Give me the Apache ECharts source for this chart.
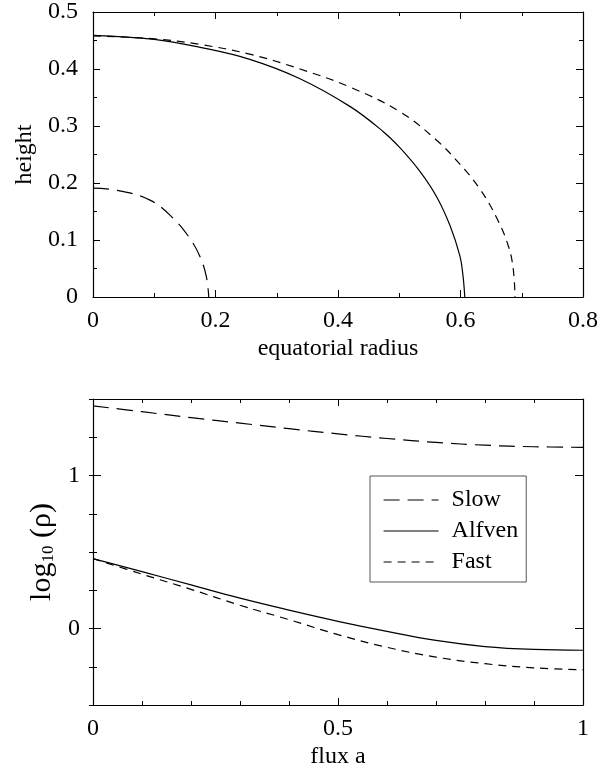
<!DOCTYPE html>
<html>
<head>
<meta charset="utf-8">
<script src="https://cdn.jsdelivr.net/npm/echarts@6/dist/echarts.min.js"></script>
<style>
  html, body { margin: 0; padding: 0; background: #fff; }
  #chart { width: 611px; height: 777px; }
</style>
</head>
<body>
<div id="chart"></div>
<script>
// top panel: surface shapes (equatorial radius vs height)
const topSlowX = [0, 0.04, 0.093, 0.131, 0.158, 0.175, 0.185, 0.189];
const topSlowY = [0.191, 0.187, 0.170, 0.138, 0.103, 0.070, 0.036, 0];
const topAlfvenX = [0, 0.1, 0.175, 0.256, 0.338, 0.42, 0.474, 0.501, 0.534, 0.561, 0.583, 0.599, 0.604, 0.607];
const topAlfvenY = [0.459, 0.452, 0.438, 0.417, 0.383, 0.334, 0.290, 0.262, 0.220, 0.176, 0.125, 0.072, 0.038, 0];
const topFastX = [0, 0.1, 0.175, 0.256, 0.338, 0.42, 0.501, 0.561, 0.599, 0.632, 0.659, 0.678, 0.686, 0.689];
const topFastY = [0.458, 0.453, 0.443, 0.426, 0.400, 0.368, 0.325, 0.275, 0.233, 0.189, 0.139, 0.090, 0.050, 0];

// bottom panel: log10(rho) vs flux a
const fluxA = [0, 0.1, 0.2, 0.3, 0.4, 0.5, 0.6, 0.7, 0.8, 0.9, 1.0];
const rhoSlow = [1.455, 1.417, 1.378, 1.342, 1.306, 1.272, 1.242, 1.216, 1.198, 1.188, 1.184];
const rhoAlfven = [0.457, 0.372, 0.285, 0.198, 0.12, 0.047, -0.019, -0.078, -0.118, -0.137, -0.142];
const rhoFast = [0.457, 0.355, 0.256, 0.152, 0.058, -0.04, -0.123, -0.187, -0.23, -0.257, -0.27];

const logTicks = [0, 1];

const FONT = '"Liberation Serif", "Times New Roman", serif';
const BLACK = '#000';

const dashes = {
  Slow: [16, 8],
  Alfven: 'solid',
  Fast: [8, 6]
};

function pairs(xs, ys) {
  return xs.map((x, i) => [x, ys[i]]);
}

function lineSeries(name, data, xi, yi) {
  return {
    name: name,
    type: 'line',
    xAxisIndex: xi,
    yAxisIndex: yi,
    data: data,
    symbol: 'none',
    showSymbol: false,
    smooth: 0.4,
    itemStyle: {color: BLACK},
    lineStyle: {color: BLACK, width: 1.2, type: dashes[name]}
  };
}

const lineCfg = {show: true, onZero: false, lineStyle: {color: BLACK, width: 1.2}};
const labelCfg = {color: BLACK, fontFamily: FONT, fontSize: 24};

function mainAxis(extra) {
  return Object.assign({
    type: 'value',
    axisLine: lineCfg,
    axisTick: {show: true, inside: true, length: 7, lineStyle: {color: BLACK, width: 1}},
    minorTick: {show: true, splitNumber: 2, length: 4, lineStyle: {color: BLACK, width: 1}},
    splitLine: {show: false},
    minorSplitLine: {show: false},
    axisLabel: Object.assign({margin: 12}, labelCfg),
    nameTextStyle: {color: BLACK, fontFamily: FONT, fontSize: 24}
  }, extra);
}

const option = {
  animation: false,
  backgroundColor: '#fff',
  grid: [
    {left: 93, top: 11, width: 490, height: 286},
    {left: 93, top: 399, width: 490, height: 306}
  ],
  xAxis: [
    mainAxis({gridIndex: 0, position: 'bottom', min: 0, max: 0.8, interval: 0.2,
      name: 'equatorial radius', nameLocation: 'middle', nameGap: 40}),
    mainAxis({gridIndex: 0, position: 'top', min: 0, max: 0.8, interval: 0.2,
      axisLabel: {show: false}}),
    mainAxis({gridIndex: 1, position: 'bottom', min: 0, max: 1, interval: 0.5,
      minorTick: {show: true, splitNumber: 5, length: 4, lineStyle: {color: BLACK, width: 1}},
      name: 'flux a', nameLocation: 'middle', nameGap: 40}),
    mainAxis({gridIndex: 1, position: 'top', min: 0, max: 1, interval: 0.5,
      minorTick: {show: true, splitNumber: 5, length: 4, lineStyle: {color: BLACK, width: 1}},
      axisLabel: {show: false}})
  ],
  yAxis: [
    mainAxis({gridIndex: 0, position: 'left', min: 0, max: 0.5, interval: 0.1,
      axisLabel: Object.assign({margin: 15}, labelCfg),
      name: 'height', nameLocation: 'middle', nameGap: 56, nameRotate: 90}),
    mainAxis({gridIndex: 0, position: 'right', min: 0, max: 0.5, interval: 0.1,
      axisLabel: {show: false}}),
    // bottom panel: labelled ticks only at 0 and 1
    mainAxis({gridIndex: 1, position: 'left', min: -0.5, max: 1.5,
      axisTick: {show: true, inside: true, length: 8, customValues: logTicks, lineStyle: {color: BLACK, width: 1}},
      minorTick: {show: false},
      axisLabel: Object.assign({margin: 13, customValues: logTicks}, labelCfg),
      name: '{m|log}{s|10}{m| (ρ)}', nameLocation: 'middle', nameGap: 24, nameRotate: 90,
      nameTextStyle: {
        color: BLACK,
        rich: {
          m: {fontFamily: FONT, fontSize: 30, color: BLACK},
          s: {fontFamily: FONT, fontSize: 17, color: BLACK, verticalAlign: 'bottom'}
        }
      }}),
    mainAxis({gridIndex: 1, position: 'left', min: -0.5, max: 1.5, interval: 0.25,
      axisLine: {show: false}, minorTick: {show: false},
      axisTick: {show: true, inside: true, length: 4, lineStyle: {color: BLACK, width: 1}},
      axisLabel: {show: false}}),
    mainAxis({gridIndex: 1, position: 'right', min: -0.5, max: 1.5,
      axisTick: {show: true, inside: true, length: 8, customValues: logTicks, lineStyle: {color: BLACK, width: 1}},
      minorTick: {show: false},
      axisLabel: {show: false}}),
    mainAxis({gridIndex: 1, position: 'right', min: -0.5, max: 1.5, interval: 0.25,
      axisLine: {show: false}, minorTick: {show: false},
      axisTick: {show: true, inside: true, length: 4, lineStyle: {color: BLACK, width: 1}},
      axisLabel: {show: false}})
  ],
  legend: {
    data: ['Slow', 'Alfven', 'Fast'],
    orient: 'vertical',
    left: 370,
    top: 476,
    padding: [12, 8, 8, 13],
    itemWidth: 55,
    itemHeight: 14,
    itemGap: 7,
    selectedMode: false,
    borderColor: '#555',
    borderWidth: 1,
    backgroundColor: '#fff',
    itemStyle: {opacity: 0},
    lineStyle: {color: BLACK, width: 1.2},
    textStyle: {color: BLACK, fontFamily: FONT, fontSize: 24, lineHeight: 24, padding: [0, 0, 0, 8]}
  },
  series: [
    lineSeries('Slow', pairs(topSlowX, topSlowY), 0, 0),
    lineSeries('Alfven', pairs(topAlfvenX, topAlfvenY), 0, 0),
    lineSeries('Fast', pairs(topFastX, topFastY), 0, 0),
    lineSeries('Slow', pairs(fluxA, rhoSlow), 2, 2),
    lineSeries('Alfven', pairs(fluxA, rhoAlfven), 2, 2),
    lineSeries('Fast', pairs(fluxA, rhoFast), 2, 2)
  ]
};

const myChart = echarts.init(document.getElementById('chart'));
myChart.setOption(option);
</script>
</body>
</html>
